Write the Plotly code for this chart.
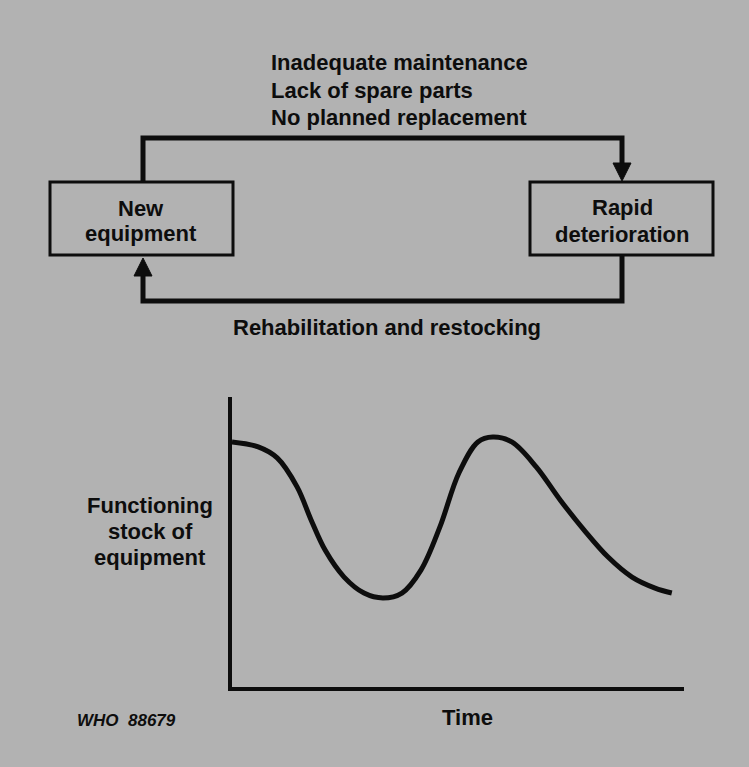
import plotly.graph_objects as go

# Curve (time in % of axis length, stock in % of axis height)
time = [0, 5.8, 10.0, 14.4, 17.5, 20.6, 24.8, 29.2, 33.4, 37.6, 41.8, 46.0, 50.2,
        54.4, 57.7, 61.9, 67.3, 72.6, 77.9, 83.2, 88.5, 93.6, 97.3]
stock = [84.5, 82.8, 79.0, 69.0, 57.6, 47.2, 37.9, 32.4, 30.7, 32.4, 40.3, 55.2, 73.8,
         84.5, 86.2, 84.5, 75.9, 64.5, 54.1, 44.8, 37.9, 34.1, 32.4]

top_labels = ["Inadequate maintenance", "Lack of spare parts", "No planned replacement"]
left_box = ["New", "equipment"]
right_box = ["Rapid", "deterioration"]
bottom_label = "Rehabilitation and restocking"
y_title = ["Functioning", "stock of", "equipment"]
x_title = "Time"
code_label = "WHO  88679"

W, H = 749, 767
BG = "#b2b2b2"
INK = "#0d0d0d"
FONT = "Liberation Sans"

fig = go.Figure()
fig.add_trace(go.Scatter(
    x=time, y=stock, mode="lines",
    line=dict(color=INK, width=5, shape="spline", smoothing=1.0),
    hoverinfo="skip", showlegend=False, cliponaxis=False,
))

# Hidden overlay in page pixel coordinates for the diagram
fig.add_trace(go.Scatter(x=[0, W], y=[0, H], xaxis="x2", yaxis="y2", mode="markers",
                         marker=dict(opacity=0), hoverinfo="skip", showlegend=False))

shapes = []
line_w = 5
# boxes
for x0, x1 in [(50, 233), (530, 713)]:
    shapes.append(dict(type="rect", xref="x2", yref="y2", x0=x0, x1=x1, y0=182, y1=255,
                       line=dict(color=INK, width=3), fillcolor="rgba(0,0,0,0)"))
# top connector
shapes.append(dict(type="path", xref="x2", yref="y2",
                   path="M143,182 L143,138 L622,138 L622,166",
                   line=dict(color=INK, width=line_w)))
shapes.append(dict(type="path", xref="x2", yref="y2",
                   path="M613,163 L631,163 L622,181 Z",
                   line=dict(color=INK, width=1), fillcolor=INK))
# bottom connector
shapes.append(dict(type="path", xref="x2", yref="y2",
                   path="M622,255 L622,301 L143,301 L143,274",
                   line=dict(color=INK, width=line_w)))
shapes.append(dict(type="path", xref="x2", yref="y2",
                   path="M134,276 L152,276 L143,258 Z",
                   line=dict(color=INK, width=1), fillcolor=INK))

ann = []
def txt(s, x, y, size=22, xanchor="center", bold=True, italic=False):
    t = s
    if bold:
        t = "<b>" + t + "</b>"
    if italic:
        t = "<i>" + t + "</i>"
    ann.append(dict(text=t, x=x, y=y, xref="x2", yref="y2", showarrow=False,
                    xanchor=xanchor, yanchor="middle",
                    font=dict(family=FONT, size=size, color=INK)))

for s, y in zip(top_labels, [62, 90, 117]):
    txt(s, 269, y, xanchor="left")
for s, y in zip(left_box, [208, 233]):
    txt(s, 141, y)
for s, y in zip(right_box, [207, 234]):
    txt(s, 622, y)
txt(bottom_label, 387, 327)
for s, y in zip(y_title, [505, 531, 557]):
    txt(s, 150, y)
txt(x_title, 467, 717)
txt(code_label, 126, 720, size=17, bold=True, italic=True)

fig.update_layout(
    width=W, height=H, margin=dict(l=0, r=0, t=0, b=0),
    paper_bgcolor=BG, plot_bgcolor="rgba(0,0,0,0)",
    showlegend=False,
    xaxis=dict(domain=[232 / W, 684 / W], range=[0, 100], showline=True, linewidth=4,
               linecolor=INK, showgrid=False, zeroline=False, showticklabels=False,
               ticks="", fixedrange=True, anchor="y"),
    yaxis=dict(domain=[1 - 687 / H, 1 - 397 / H], range=[0, 100], showline=True,
               linewidth=4, linecolor=INK, showgrid=False, zeroline=False,
               showticklabels=False, ticks="", fixedrange=True, anchor="x"),
    xaxis2=dict(domain=[0, 1], range=[0, W], visible=False, anchor="y2", fixedrange=True),
    yaxis2=dict(domain=[0, 1], range=[H, 0], visible=False, anchor="x2", fixedrange=True),
    shapes=shapes, annotations=ann,
)

fig.write_html("out.html", config={"displayModeBar": False},
               post_script="document.body.style.margin='0';document.body.style.overflow='hidden';document.body.style.background='" + BG + "';")
